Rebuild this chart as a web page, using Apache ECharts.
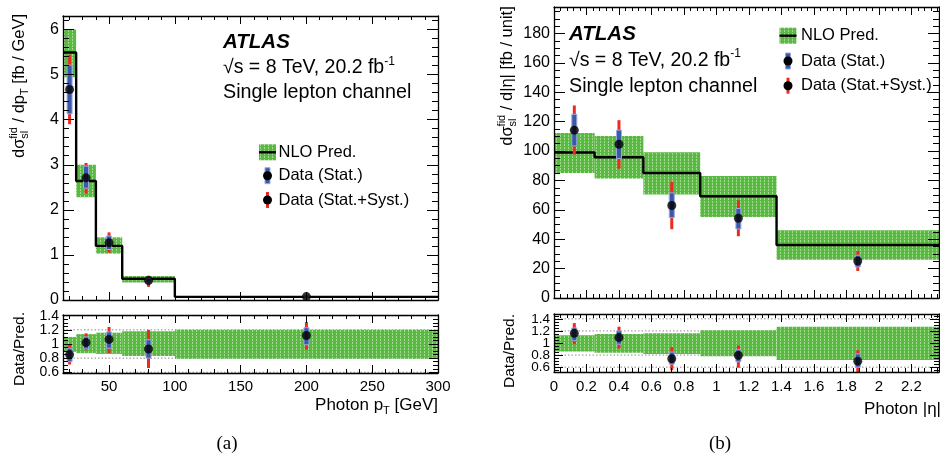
<!DOCTYPE html>
<html><head><meta charset="utf-8">
<script src="https://cdn.jsdelivr.net/npm/echarts@6/dist/echarts.min.js"></script>
<style>html,body{margin:0;padding:0;background:#fff}#c{width:940px;height:456px}</style>
</head><body><div id="c"></div><script>
// ---------------- DATA: (a) photon pT ----------------
const ptEdges   = [15, 25, 40, 60, 100, 300];
const ptPred    = [5.49, 2.64, 1.20, 0.47, 0.07];
const ptPredLo  = [4.94, 2.28, 1.03, 0.39, 0.055];
const ptPredHi  = [6.00, 3.00, 1.39, 0.53, 0.085];
const ptX       = [20, 32.5, 50, 80, 200];
const ptData    = [4.67, 2.71, 1.27, 0.43, 0.075];
const ptStatLo  = [4.13, 2.48, 1.12, 0.38, 0.065];
const ptStatHi  = [5.21, 2.97, 1.42, 0.48, 0.085];
const ptTotLo   = [3.90, 2.36, 1.05, 0.29, 0.06];
const ptTotHi   = [5.44, 3.04, 1.50, 0.54, 0.09];
const ptRBandLo = [0.89, 0.87, 0.86, 0.83, 0.79];
const ptRBandHi = [1.10, 1.14, 1.16, 1.18, 1.20];
const ptRatio   = [0.85, 1.02, 1.065, 0.93, 1.12];
const ptRStatLo = [0.75, 0.93, 0.94, 0.80, 0.99];
const ptRStatHi = [0.94, 1.10, 1.17, 1.06, 1.23];
const ptRTotLo  = [0.71, 0.91, 0.87, 0.66, 0.92];
const ptRTotHi  = [0.99, 1.15, 1.24, 1.20, 1.31];
// ---------------- DATA: (b) photon |eta| ----------------
const etaEdges   = [0, 0.25, 0.55, 0.90, 1.37, 2.37];
const etaPred    = [99.0, 95.8, 85.1, 69.2, 36.1];
const etaPredLo  = [85.1, 81.3, 70.4, 55.1, 26.1];
const etaPredHi  = [112.3, 110.3, 99.2, 83.0, 46.1];
const etaX       = [0.125, 0.40, 0.725, 1.135, 1.87];
const etaData    = [114.2, 104.6, 62.9, 54.3, 25.2];
const etaStatLo  = [103.5, 94.9, 54.7, 47.0, 21.1];
const etaStatHi  = [125.0, 114.2, 71.5, 60.9, 29.1];
const etaTotLo   = [97.6, 88.0, 46.8, 42.0, 18.4];
const etaTotHi   = [131.0, 121.0, 79.0, 66.5, 32.0];
const etaRBandLo = [0.86, 0.84, 0.82, 0.78, 0.72];
const etaRBandHi = [1.13, 1.15, 1.16, 1.21, 1.27];
const etaRatio   = [1.16, 1.09, 0.74, 0.795, 0.70];
const etaRStatLo = [1.04, 0.98, 0.65, 0.69, 0.60];
const etaRStatHi = [1.25, 1.20, 0.85, 0.89, 0.82];
const etaRTotLo  = [0.98, 0.91, 0.55, 0.59, 0.52];
const etaRTotHi  = [1.33, 1.27, 0.93, 0.96, 0.88];
// ---------------- TICK LABELS ----------------
const ptTickLabels    = [50, 100, 150, 200, 250, 300];
const etaTickLabels   = [0, 0.2, 0.4, 0.6, 0.8, 1, 1.2, 1.4, 1.6, 1.8, 2, 2.2];
const ptYTickLabels   = [0, 1, 2, 3, 4, 5, 6];
const etaYTickLabels  = [0, 20, 40, 60, 80, 100, 120, 140, 160, 180];
const ratioTickLabels = [0.6, 0.8, 1, 1.2, 1.4];
const ratioRefLines   = [0.6, 0.8, 1, 1.2, 1.4];

// ---------------- helpers ----------------
const SANS = '"Liberation Sans", Arial, Helvetica, sans-serif';
const SERIF = '"Liberation Serif", "DejaVu Serif", serif';
function range(a, b, s) { const r = []; for (let v = a; v <= b + 1e-9; v += s) r.push(Math.round(v * 1e6) / 1e6); return r; }

const pc = document.createElement('canvas'); pc.width = 4; pc.height = 3;
(function () { const g = pc.getContext('2d'); g.fillStyle = '#5ab943'; g.fillRect(0, 0, 4, 3);
  g.fillStyle = '#a4da92'; g.fillRect(0, 0, 1, 1); g.fillRect(0, 1, 1, 1); })();
const bandFill = { image: pc, repeat: 'repeat' };
const BLUE = '#3d58aa', BLUE_EDGE = '#9aaade', RED = '#ec2a22';

const mctx = document.createElement('canvas').getContext('2d');
function textRuns(list, gx, gy, align, rot, sx) {
  let cx = 0, lastX = 0; const els = [];
  list.forEach(r => {
    const font = (r.it ? 'italic ' : '') + (r.b ? 'bold ' : '') + r.s + 'px ' + (r.f || SANS);
    mctx.font = font; const w = mctx.measureText(r.t).width;
    const x = r.stack ? lastX : cx;
    if (!r.stack) lastX = x;
    els.push({ type: 'text', x: x, y: (r.dy || 0) - 0.35 * r.s, silent: true,
      style: { text: r.t, font: font, fill: '#000', align: 'left', verticalAlign: 'middle' } });
    cx = Math.max(cx, x + w);
  });
  const off = align === 'center' ? -cx / 2 : align === 'right' ? -cx : 0;
  els.forEach(e => { e.x += off; });
  return { type: 'group', x: gx, y: gy, rotation: rot || 0, scaleX: sx || 1, children: els };
}

// labels are split between the major- and the minor-tick axis (alternating values),
// so tightly packed ratio labels are never dropped by overlap handling
function mkAxes(dim, gi, min, max, majors, minors, majLen, minLen, labelOpt) {
  const pos = dim === 'x' ? ['bottom', 'top'] : ['left', 'right'];
  const arr = [];
  const labA = majors.filter((v, i) => i % 2 === 0), labB = majors.filter((v, i) => i % 2 === 1);
  const lab = vals => Object.assign({ show: true, customValues: vals, color: '#000', fontFamily: SANS, hideOverlap: false }, labelOpt);
  pos.forEach((p, k) => {
    const withLab = k === 0 && labelOpt;
    arr.push({ type: 'value', gridIndex: gi, position: p, min: min, max: max, z: 10,
      axisLine: { show: true, onZero: false, lineStyle: { color: '#000', width: 1.3 } },
      axisTick: { show: true, inside: true, length: majLen, customValues: majors, lineStyle: { color: '#000', width: 1 } },
      axisLabel: withLab ? lab(labA) : { show: false },
      splitLine: { show: false } });
    arr.push({ type: 'value', gridIndex: gi, position: p, min: min, max: max, z: 10,
      axisLine: { show: false, onZero: false },
      axisTick: { show: true, inside: true, length: minLen, customValues: minors, lineStyle: { color: '#000', width: 1 } },
      axisLabel: (withLab && labB.length) ? lab(labB) : { show: false },
      splitLine: { show: false } });
  });
  return arr;
}

function bandSeries(ai, edges, lo, hi) {
  return { type: 'custom', xAxisIndex: ai, yAxisIndex: ai, z: 2, silent: true, clip: true,
    data: lo.map((v, i) => [edges[i], edges[i + 1], lo[i], hi[i]]),
    encode: { x: [0, 1], y: [2, 3] },
    renderItem: (p, api) => {
      const a = api.coord([api.value(0), api.value(3)]);
      const b = api.coord([api.value(1), api.value(2)]);
      return { type: 'rect', shape: { x: a[0], y: a[1], width: b[0] - a[0], height: b[1] - a[1] }, style: { fill: bandFill } };
    } };
}
function stepSeries(ai, edges, v) {
  const d = [];
  v.forEach((y, i) => { d.push([edges[i], y]); d.push([edges[i + 1], y]); });
  return { type: 'line', xAxisIndex: ai, yAxisIndex: ai, z: 3, data: d, symbol: 'none', silent: true,
    lineStyle: { color: '#000', width: 2.4 } };
}
function errSeries(ai, xs, lo, hi, color, w, edge, z) {
  return { type: 'custom', xAxisIndex: ai, yAxisIndex: ai, z: z, silent: true,
    data: xs.map((x, i) => [x, lo[i], hi[i]]), encode: { x: 0, y: [1, 2] },
    renderItem: (p, api) => {
      const a = api.coord([api.value(0), api.value(2)]);
      const b = api.coord([api.value(0), api.value(1)]);
      return { type: 'rect', shape: { x: a[0] - w / 2, y: a[1], width: w, height: b[1] - a[1] },
        style: { fill: color, stroke: edge || null, lineWidth: edge ? 1 : 0 } };
    } };
}
function pointSeries(ai, xs, ys) {
  return { type: 'scatter', xAxisIndex: ai, yAxisIndex: ai, z: 6, silent: true,
    data: xs.map((x, i) => [x, ys[i]]), symbol: 'circle', symbolSize: 9, itemStyle: { color: '#000' } };
}
function refSeries(ai, x0, vals) {
  return { type: 'custom', xAxisIndex: ai, yAxisIndex: ai, z: 1, silent: true,
    data: vals.map(v => [x0, v]), encode: { x: 0, y: 1 },
    renderItem: (p, api) => {
      const cs = p.coordSys; const y = api.coord([api.value(0), api.value(1)])[1];
      return { type: 'line', shape: { x1: cs.x, y1: y, x2: cs.x + cs.width, y2: y },
        style: { stroke: '#8c8c8c', lineWidth: 1, lineDash: [1.5, 2] } };
    } };
}

// ---------------- layout ----------------
const grids = [
  { left: 63, top: 16, width: 375, height: 284 },   // (a) main
  { left: 63, top: 315, width: 375, height: 58 },   // (a) ratio
  { left: 554, top: 7, width: 385, height: 291 },   // (b) main
  { left: 554, top: 314, width: 385, height: 58 }   // (b) ratio
];
const ptRange = [15, 300], etaRange = [0, 2.37];
const xAxes = [].concat(
  mkAxes('x', 0, ptRange[0], ptRange[1], ptTickLabels, range(20, 290, 10), 8, 4, null),
  mkAxes('x', 1, ptRange[0], ptRange[1], ptTickLabels, range(20, 290, 10), 8, 4, { fontSize: 15, margin: 6 }),
  mkAxes('x', 2, etaRange[0], etaRange[1], etaTickLabels, range(0, 2.36, 0.04), 8, 4, null),
  mkAxes('x', 3, etaRange[0], etaRange[1], etaTickLabels, range(0, 2.36, 0.04), 8, 4, { fontSize: 15, margin: 7 })
);
const yAxes = [].concat(
  mkAxes('y', 0, 0, 6.3, ptYTickLabels, range(0, 6.2, 0.2), 11, 6, { fontSize: 16, margin: 4 }),
  mkAxes('y', 1, 0.59, 1.41, ratioTickLabels, range(0.6, 1.4, 0.05), 9, 5, { fontSize: 14, margin: 4 }),
  mkAxes('y', 2, 0, 198, etaYTickLabels, range(0, 195, 5), 11, 6, { fontSize: 16, margin: 4 }),
  mkAxes('y', 3, 0.52, 1.48, ratioTickLabels, range(0.55, 1.45, 0.05), 9, 5, { fontSize: 13.5, margin: 4 })
);

const series = [
  // (a) main
  bandSeries(0, ptEdges, ptPredLo, ptPredHi),
  stepSeries(0, ptEdges, ptPred),
  errSeries(0, ptX, ptTotLo, ptTotHi, RED, 3, null, 4),
  errSeries(0, ptX, ptStatLo, ptStatHi, BLUE, 5, BLUE_EDGE, 5),
  pointSeries(0, ptX, ptData),
  // (a) ratio
  refSeries(4, ptRange[0], ratioRefLines),
  bandSeries(4, ptEdges, ptRBandLo, ptRBandHi),
  errSeries(4, ptX, ptRTotLo, ptRTotHi, RED, 3, null, 4),
  errSeries(4, ptX, ptRStatLo, ptRStatHi, BLUE, 5, BLUE_EDGE, 5),
  pointSeries(4, ptX, ptRatio),
  // (b) main
  bandSeries(8, etaEdges, etaPredLo, etaPredHi),
  stepSeries(8, etaEdges, etaPred),
  errSeries(8, etaX, etaTotLo, etaTotHi, RED, 3, null, 4),
  errSeries(8, etaX, etaStatLo, etaStatHi, BLUE, 5, BLUE_EDGE, 5),
  pointSeries(8, etaX, etaData),
  // (b) ratio
  refSeries(12, etaRange[0], ratioRefLines),
  bandSeries(12, etaEdges, etaRBandLo, etaRBandHi),
  errSeries(12, etaX, etaRTotLo, etaRTotHi, RED, 3, null, 4),
  errSeries(12, etaX, etaRStatLo, etaRStatHi, BLUE, 5, BLUE_EDGE, 5),
  pointSeries(12, etaX, etaRatio)
];

function legend(x0, xt, ys, fs) {
  const bw = 17, els = [];
  els.push({ type: 'rect', shape: { x: x0, y: ys[0] - 8, width: bw, height: 16 }, style: { fill: bandFill }, silent: true });
  els.push({ type: 'line', shape: { x1: x0, y1: ys[0], x2: x0 + bw, y2: ys[0] }, style: { stroke: '#000', lineWidth: 2.4 }, silent: true });
  const cx = x0 + bw / 2;
  els.push({ type: 'rect', shape: { x: cx - 2.5, y: ys[1] - 8, width: 5, height: 16 }, style: { fill: BLUE, stroke: BLUE_EDGE, lineWidth: 1 }, silent: true });
  els.push({ type: 'circle', shape: { cx: cx, cy: ys[1], r: 4.5 }, style: { fill: '#000' }, silent: true });
  els.push({ type: 'rect', shape: { x: cx - 1.5, y: ys[2] - 8, width: 3, height: 16 }, style: { fill: RED }, silent: true });
  els.push({ type: 'circle', shape: { cx: cx, cy: ys[2], r: 4.5 }, style: { fill: '#000' }, silent: true });
  ['NLO Pred.', 'Data (Stat.)', 'Data (Stat.+Syst.)'].forEach((t, i) => {
    els.push(textRuns([{ t: t, s: fs }], xt, ys[i] + 0.35 * fs, 'left'));
  });
  return els;
}

const graphics = [].concat(
  // panel (a) labels
  [textRuns([{ t: 'ATLAS', s: 20.5, b: 1, it: 1 }], 223, 50, 'left'),
   textRuns([{ t: '√s = 8 TeV, 20.2 fb', s: 19.5 }, { t: '-1', s: 12, dy: -9 }], 223, 74.5, 'left'),
   textRuns([{ t: 'Single lepton channel', s: 19.7 }], 223, 99, 'left')],
  legend(259, 278.5, [152.3, 175.7, 200], 16.5),
  [textRuns([{ t: 'dσ', s: 16.5 }, { t: 'fid', s: 11, dy: -7.5 }, { t: 'sl', s: 11, dy: 3.5, stack: 1 },
             { t: ' / dp', s: 16.5 }, { t: 'T', s: 11, dy: 4 }, { t: ' [fb / GeV]', s: 16.5 }], 25, 86, 'center', Math.PI / 2),
   textRuns([{ t: 'Data/Pred.', s: 15.5 }], 25, 349, 'center', Math.PI / 2),
   textRuns([{ t: 'Photon p', s: 17 }, { t: 'T', s: 11, dy: 4 }, { t: ' [GeV]', s: 17 }], 438, 411, 'right'),
   textRuns([{ t: '(a)', s: 19, f: SERIF }], 227, 451, 'center')],
  // panel (b) labels
  [textRuns([{ t: 'ATLAS', s: 20.5, b: 1, it: 1 }], 569, 42, 'left'),
   textRuns([{ t: '√s = 8 TeV, 20.2 fb', s: 19.5 }, { t: '-1', s: 12, dy: -9 }], 569, 67, 'left'),
   textRuns([{ t: 'Single lepton channel', s: 19.7 }], 569, 93, 'left')],
  legend(779.5, 801, [35.7, 61, 85.7], 16.5),
  [textRuns([{ t: 'dσ', s: 16.5 }, { t: 'fid', s: 11, dy: -7.5 }, { t: 'sl', s: 11, dy: 3.5, stack: 1 },
             { t: ' / d|η| [fb / unit]', s: 16.5 }], 513, 76, 'center', Math.PI / 2),
   textRuns([{ t: 'Data/Pred.', s: 15.5 }], 515, 351, 'center', Math.PI / 2),
   textRuns([{ t: 'Photon |η|', s: 17 }], 941, 415, 'right'),
   textRuns([{ t: '(b)', s: 19, f: SERIF }], 720, 451, 'center')]
);

const chart = echarts.init(document.getElementById('c'), null, { renderer: 'canvas' });
chart.setOption({
  animation: false,
  backgroundColor: '#fff',
  textStyle: { fontFamily: SANS },
  grid: grids,
  xAxis: xAxes,
  yAxis: yAxes,
  series: series,
  graphic: { elements: graphics }
});
</script></body></html>
